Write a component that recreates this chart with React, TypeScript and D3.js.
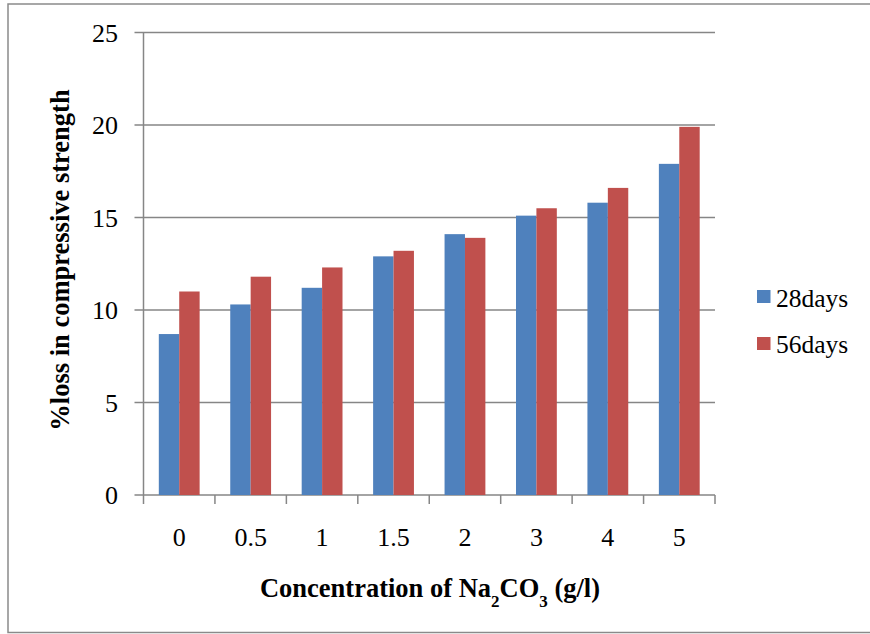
import React from "react";
import * as d3 from "d3";

const categories = ["0", "0.5", "1", "1.5", "2", "3", "4", "5"];
const days28 = [8.7, 10.3, 11.2, 12.9, 14.1, 15.1, 15.8, 17.9];
const days56 = [11.0, 11.8, 12.3, 13.2, 13.9, 15.5, 16.6, 19.9];
const seriesNames = ["28days", "56days"];
const seriesColors = ["#4F81BD", "#C0504D"];
const yTicks = [0, 5, 10, 15, 20, 25];

const W = 870;
const H = 634;
const left = 143.5;
const right = 715;
const top = 32.5;
const bottom = 495;
const font = "Liberation Serif, DejaVu Serif, Times New Roman, serif";

export default function App() {
  const x = d3.scaleBand<string>().domain(categories).range([left, right]).paddingInner(0).paddingOuter(0);
  const y = d3.scaleLinear().domain([0, 25]).range([bottom, top]);
  const group = d3.scaleBand<number>().domain([0, 1]).range([0, x.bandwidth()]).paddingInner(0).paddingOuter(0.75);
  const data = [days28, days56];
  const grid = "#868686";

  return (
    <svg width={W} height={H} style={{ position: "absolute", left: 0, top: 0, background: "#fff" }}>
      <rect x={8} y={4} width={W} height={628.5} fill="#fff" stroke="#8a8a8a" strokeWidth={1.5} />
      {yTicks.map((t) => (
        <g key={t}>
          <line x1={left - 9} x2={right} y1={y(t)} y2={y(t)} stroke={grid} strokeWidth={1.5} />
          <text x={118} y={y(t) + 9} textAnchor="end" fontFamily={font} fontSize={26} fill="#000">
            {t}
          </text>
        </g>
      ))}
      <line x1={left} x2={left} y1={top} y2={bottom} stroke={grid} strokeWidth={1.5} />
      {data.map((vals, si) =>
        vals.map((v, i) => (
          <rect
            key={`${si}-${i}`}
            x={(x(categories[i]) as number) + (group(si) as number)}
            y={y(v)}
            width={group.bandwidth()}
            height={bottom - y(v)}
            fill={seriesColors[si]}
          />
        ))
      )}
      {categories.concat([""]).map((c, i) => {
        const xx = left + i * x.step();
        return <line key={`t${i}`} x1={xx} x2={xx} y1={bottom} y2={bottom + 9} stroke={grid} strokeWidth={1.5} />;
      })}
      {categories.map((c) => (
        <text
          key={c}
          x={(x(c) as number) + x.bandwidth() / 2}
          y={546}
          textAnchor="middle"
          fontFamily={font}
          fontSize={26}
          fill="#000"
        >
          {c}
        </text>
      ))}
      <text x={430} y={597} textAnchor="middle" fontFamily={font} fontSize={26.5} fontWeight="bold" fill="#000">
        Concentration of Na
        <tspan baselineShift="sub" fontSize={17}>2</tspan>
        CO
        <tspan baselineShift="sub" fontSize={17}>3</tspan>
        {" (g/l)"}
      </text>
      <text
        transform={`translate(69, 260) rotate(-90)`}
        textAnchor="middle"
        fontFamily={font}
        fontSize={26.5}
        fontWeight="bold"
        fill="#000"
      >
        %loss in compressive strength
      </text>
      {seriesNames.map((n, i) => (
        <g key={n}>
          <rect x={757} y={290 + i * 47} width={13.5} height={13} fill={seriesColors[i]} />
          <text x={776} y={306.5 + i * 46.5} fontFamily={font} fontSize={25.5} fill="#000">
            {n}
          </text>
        </g>
      ))}
    </svg>
  );
}
